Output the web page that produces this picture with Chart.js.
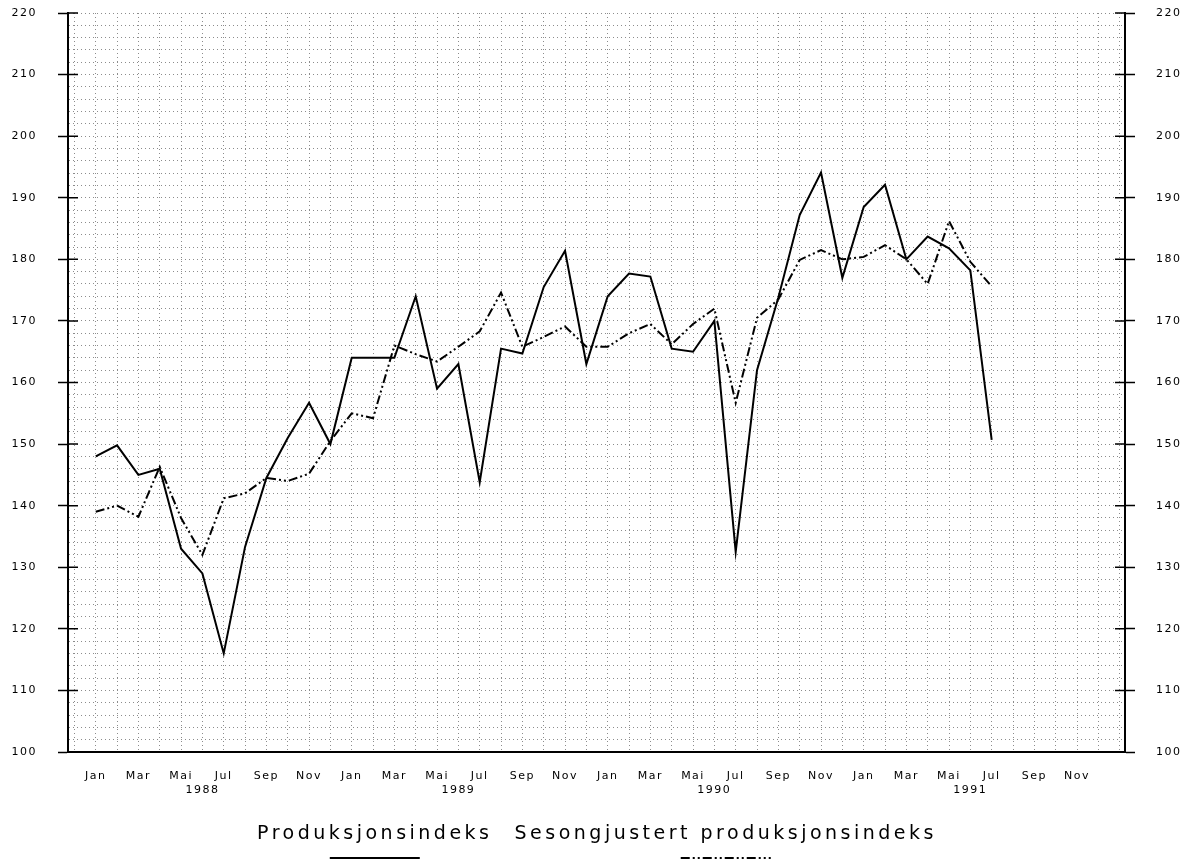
<!DOCTYPE html>
<html>
<head>
<meta charset="utf-8">
<title>Produksjonsindeks</title>
<script src="https://cdn.jsdelivr.net/npm/chart.js@4.4.1/dist/chart.umd.min.js"></script>
<style>
  html, body { margin: 0; padding: 0; background: #fff; }
  #wrap { width: 1194px; height: 862px; position: relative; }
</style>
</head>
<body>
<div id="wrap"><canvas id="prodChart"></canvas></div>
<script>
// Tick labels for the month axis (every second month) and the years below
const monthLabels = ['Jan', 'Mar', 'Mai', 'Jul', 'Sep', 'Nov'];
const yearLabels = ['1988', '1989', '1990', '1991'];

// Monthly values, Jan 1988 - Jul 1991
const produksjonsindeks = [
    148, 149.8, 145, 146, 133, 129, 116, 133.3, 144.5, 151, 156.7, 150,
    164, 164, 164, 174, 159, 163, 143.8, 165.5, 164.7, 175.5, 181.4, 163,
    174, 177.7, 177.2, 165.5, 165, 170, 132.5, 162, 173.8, 187.2, 194.1, 177,
    188.5, 192.1, 180, 183.7, 181.8, 178.2, 150.7
];
const sesongjustert = [
    139, 140, 138.2, 146.3, 138, 132, 141.2, 142, 144.5, 144, 145.2, 150.5,
    155, 154.2, 166, 164.6, 163.4, 165.8, 168.3, 174.6, 165.8, 167.4, 169.1, 165.8,
    165.8, 168, 169.5, 166.2, 169.5, 172, 156.7, 170.5, 173.5, 179.9, 181.5, 180,
    180.4, 182.3, 180, 176, 186.2, 179.6, 175.6
];

const FONT = "'DejaVu Sans', Verdana, sans-serif";
const DASH_DOT = [9, 3, 2, 3, 2, 3];

function toPoints(arr) {
    return arr.map((v, i) => ({ x: i, y: v }));
}

// y axes: fixed width, no extra label padding above/below the plot
function fitY(width) {
    return s => {
        s.width = width;
        s.paddingTop = 0;
        s.paddingBottom = 0;
    };
}

// letter spacing for canvas text + small inner tick marks + legend under the axis
const extrasPlugin = {
    id: 'extras',
    beforeDraw(chart) {
        chart.ctx.letterSpacing = '1.5px';
    },
    afterDraw(chart) {
        const ctx = chart.ctx;
        const area = chart.chartArea;
        const yScale = chart.scales.y;

        // tick marks crossing into the plot on both sides
        ctx.save();
        ctx.strokeStyle = '#000';
        ctx.lineWidth = 1.5;
        yScale.ticks.forEach(t => {
            if (t.value % 10 !== 0) return;
            const py = yScale.getPixelForValue(t.value);
            ctx.beginPath();
            ctx.moveTo(area.left, py);
            ctx.lineTo(area.left + 10, py);
            ctx.moveTo(area.right - 10, py);
            ctx.lineTo(area.right, py);
            ctx.stroke();
        });
        ctx.restore();

        // legend: label on top, line sample underneath
        ctx.save();
        ctx.font = '19px ' + FONT;
        ctx.letterSpacing = '3.5px';
        ctx.fillStyle = '#000';
        ctx.textBaseline = 'middle';
        ctx.textAlign = 'left';
        const items = chart.data.datasets;
        const gap = 22;
        const widths = items.map(d => ctx.measureText(d.label).width);
        const total = widths.reduce((a, b) => a + b, 0) + gap * (items.length - 1);
        let x = chart.width / 2 - total / 2;
        items.forEach((d, i) => {
            ctx.fillText(d.label, x, 834);
            const cx = x + widths[i] / 2;
            ctx.beginPath();
            ctx.lineWidth = 2;
            ctx.strokeStyle = '#000';
            ctx.setLineDash(d.borderDash || []);
            ctx.moveTo(cx - 45, 858);
            ctx.lineTo(cx + 45, 858);
            ctx.stroke();
            x += widths[i] + gap;
        });
        ctx.restore();
    }
};

const gridColor = '#8c8c8c';

new Chart(document.getElementById('prodChart'), {
    type: 'line',
    data: {
        datasets: [{
            label: 'Produksjonsindeks',
            data: toPoints(produksjonsindeks),
            borderColor: '#000',
            borderWidth: 2,
            pointRadius: 0,
            tension: 0,
            fill: false
        }, {
            label: 'Sesongjustert produksjonsindeks',
            data: toPoints(sesongjustert),
            borderColor: '#000',
            borderWidth: 2,
            borderDash: DASH_DOT,
            pointRadius: 0,
            tension: 0,
            fill: false
        }]
    },
    options: {
        responsive: true,
        maintainAspectRatio: false,
        animation: false,
        layout: { padding: { top: 13, left: 0, right: 0, bottom: 0 } },
        plugins: {
            legend: { display: false },
            tooltip: { enabled: false }
        },
        scales: {
            x: {
                type: 'linear',
                min: -1.3,
                max: 48.25,
                afterFit: s => { s.height = 110; },
                grid: {
                    color: gridColor,
                    lineWidth: 1,
                    drawTicks: false
                },
                border: { display: true, color: '#000', width: 2, dash: [1, 3] },
                ticks: {
                    stepSize: 1,
                    autoSkip: false,
                    includeBounds: false,
                    maxRotation: 0,
                    padding: 18,
                    color: '#000',
                    font: { family: FONT, size: 11 },
                    callback: function (value) {
                        const i = Math.round(value);
                        if (Math.abs(value - i) > 1e-6 || i < 0 || i > 47) return '';
                        const m = i % 12;
                        if (m % 2 === 0) return monthLabels[m / 2];
                        if (m === 5) return ['', yearLabels[Math.floor(i / 12)]];
                        return '';
                    }
                }
            },
            y: {
                position: 'left',
                min: 100,
                max: 220,
                afterFit: fitY(68),
                grid: {
                    color: gridColor,
                    lineWidth: 1,
                    tickLength: 10,
                    tickWidth: 1.5,
                    tickColor: c => (c.tick && c.tick.value % 10 === 0) ? '#000' : 'rgba(0,0,0,0)'
                },
                border: { display: true, color: '#000', width: 2, dash: [1, 3] },
                ticks: {
                    stepSize: 2,
                    maxTicksLimit: 100,
                    autoSkip: false,
                    padding: 21,
                    color: '#000',
                    font: { family: FONT, size: 11 },
                    callback: v => (v % 10 === 0 ? String(v) : '')
                }
            },
            y2: {
                position: 'right',
                min: 100,
                max: 220,
                afterFit: fitY(69),
                grid: {
                    drawOnChartArea: false,
                    tickLength: 10,
                    tickWidth: 1.5,
                    tickColor: c => (c.tick && c.tick.value % 10 === 0) ? '#000' : 'rgba(0,0,0,0)'
                },
                border: { display: true, color: '#000', width: 2 },
                ticks: {
                    stepSize: 2,
                    maxTicksLimit: 100,
                    autoSkip: false,
                    padding: 21,
                    color: '#000',
                    font: { family: FONT, size: 11 },
                    callback: v => (v % 10 === 0 ? String(v) : '')
                }
            }
        }
    },
    plugins: [extrasPlugin]
});
</script>
</body>
</html>
